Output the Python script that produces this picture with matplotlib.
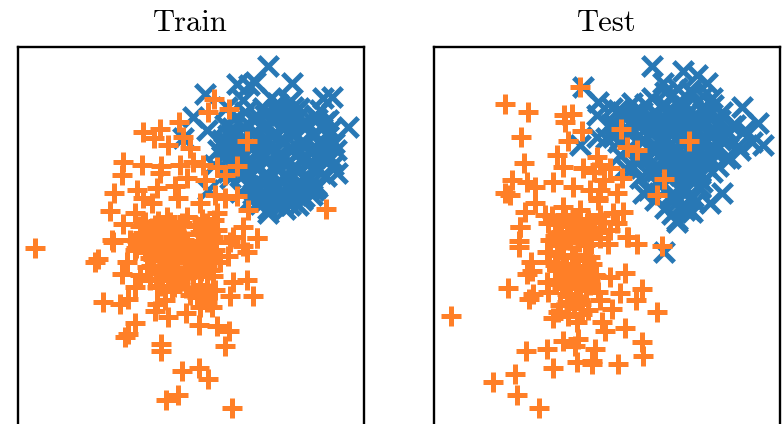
import matplotlib
matplotlib.use('Agg')
import matplotlib.pyplot as plt

train_blue_x = [268,237,249,255,292,205,332,323,320,348,328,193,207,183,333,337,317,298,268,257,208,277,293,243,227,
                225,235,245,255,265,275,285,295,305,315,325,222,232,243,252,262,272,283,293,303,313,330,
                218,228,238,250,260,270,280,290,300,310,322,336,214,226,240,248,258,268,278,288,298,308,318,
                230,242,254,264,276,286,296,306,316,326,240,252,262,274,284,294,304,314,250,260,272,282,292,
                302,312,258,268,280,290,300,272,284,296,
                # solid core of the cloud
                247,257,267,277,287,297,307,317,244,254,264,274,284,294,304,314,241,251,261,271,281,291,301,311,321,
                246,256,266,276,286,296,306,316,249,259,269,279,289,299,309,253,263,273,283,293,303,
                236,239,233,228,320,326,331,224,334,263,281,299,271,289,279,285,268,275,290,262,
                232,238,226,234,222,230,238,228,322,328,316,310,304,318,312,326]
train_blue_y = [66,84,85,82,83,94,97,98,110,127,120,117,130,138,165,173,187,205,213,203,190,103,107,100,107,
                125,118,112,120,115,110,118,112,121,115,122,140,135,128,134,128,136,129,133,127,135,130,
                150,147,155,146,152,145,153,148,143,152,146,150,165,160,170,162,168,160,170,163,171,164,168,
                178,175,183,176,184,178,186,180,185,176,192,188,195,190,198,192,197,190,200,204,198,205,196,
                200,195,150,140,160,130,150,120,142,155,
                123,116,124,117,125,118,126,119,139,132,140,133,141,134,142,135,156,149,157,150,158,151,159,152,157,
                172,165,173,166,174,167,175,168,186,181,187,180,188,181,189,194,193,200,194,201,186,
                150,160,142,135,140,145,158,148,143,108,112,108,98,102,105,209,209,205,205,199,
                128,142,140,150,156,163,168,172,128,136,148,162,178,170,182,160]
train_orange_x = [214,208,229,179,143,160,154,168,183,190,247,123,142,161,122,160,180,193,203,217,237,225,205,187,114,
                  137,157,175,215,237,225,143,110,152,178,135,200,248,326,123,143,167,187,217,207,243,257,233,143,160,
                  217,200,173,112,35,113,98,95,137,127,122,147,163,167,173,157,187,207,213,230,243,257,247,228,213,187,
                  157,135,172,193,233,247,207,230,253,207,197,103,120,128,157,155,168,186,200,212,135,199,217,229,128,
                  125,161,161,225,182,199,208,178,166,232,150,155,165,175,180,170,185,195,205,150,160,175,190,200,140,
                  145,210,215,165,155,195,205,180,135,130,140,150,170,210,220,215,165,190,205,200,
                  # solid core of the cloud
                  145,152,158,164,170,176,182,143,149,155,161,167,173,179,185,147,153,159,165,171,177,183,189,151,157,
                  163,169,175,181,187,193,156,162,168,174,180,186,196,202,208,214,198,204,210,216,200,206,212,195,201,
                  207,160,166,172,178,184,140,146,136]
train_orange_y = [99,112,109,122,132,129,138,145,137,148,141,162,165,166,175,173,165,162,165,167,166,175,180,178,193,
                  190,188,186,195,196,198,198,211,203,198,213,203,210,209,224,222,217,217,213,223,227,238,237,233,232,
                  230,232,230,240,248,242,259,262,241,262,274,267,251,261,244,241,241,244,237,242,246,238,252,256,276,277,
                  287,287,291,289,282,280,286,296,296,302,297,302,304,299,304,311,317,313,307,307,323,325,326,331,334,
                  337,344,351,346,371,368,379,395,400,408,232,245,240,255,240,265,260,250,255,258,270,275,270,265,235,
                  250,235,250,225,225,225,235,225,250,240,275,280,280,270,262,290,300,295,295,285,
                  222,228,221,229,222,230,223,236,243,237,244,238,245,239,246,252,259,253,260,254,261,255,262,266,273,
                  267,274,268,275,269,276,279,286,280,287,281,288,226,219,227,220,234,241,235,242,250,257,251,264,271,
                  265,232,239,233,246,240,226,234,248]

test_blue_x = [652,683,697,583,598,742,758,763,713,722,710,677,690,643,633,580,597,597,707,663,664,677,
               612,622,632,642,652,662,672,682,692,702,712,722,615,628,640,650,660,670,680,690,700,710,720,732,
               618,630,644,654,664,674,684,694,704,714,724,738,636,648,658,668,678,688,698,708,718,640,652,662,
               672,682,692,702,712,648,660,670,680,690,700,655,665,675,685,695,672,682,692,650,668,686,704,
               630,646,664,680,698,
               # solid core of the cloud
               635,645,655,665,675,685,695,705,638,647,657,667,677,687,697,707,641,651,661,671,681,691,701,711,721,
               644,654,664,674,684,694,704,714,656,666,676,686,696,706,660,670,680,690,700,673,683,693,
               625,618,610,606,728,735,745,752,740,730,620,628,615,625,665,677,690,703,685,
               650,658,668,678,688,698,708,716,654,662,672,682,692,702,712,722,658,668,678,688,698,708,664,674,684,
               694,704,670,680,690,700,622,634,716,726]
test_blue_y = [66,71,75,87,102,107,123,145,105,193,203,220,210,193,167,145,137,115,83,83,252,222,
               108,116,103,112,98,106,95,104,93,108,98,112,125,130,122,132,120,128,118,130,122,132,120,126,
               142,148,140,150,142,152,144,150,140,148,138,146,162,158,166,158,168,160,170,158,166,178,172,182,
               174,184,176,182,172,190,186,196,190,198,188,200,208,204,210,202,214,206,212,118,110,115,112,
               135,128,150,165,178,
               111,104,112,105,113,106,114,107,126,119,127,120,128,121,129,122,141,134,142,135,143,136,144,137,140,
               156,149,157,150,158,151,159,152,171,164,172,165,173,166,185,178,186,179,187,196,191,197,
               118,110,125,138,132,125,130,142,150,158,155,148,135,168,92,88,90,96,205,
               116,124,114,122,112,120,116,124,130,137,133,139,131,138,132,136,148,146,150,147,152,149,162,160,161,
               163,160,176,175,178,174,112,118,150,158]
test_orange_x = [580,505,528,564,572,565,582,568,521,621,627,637,689,557,524,563,597,600,583,622,664,657,512,505,510,
                 527,535,553,573,600,598,617,535,525,563,623,613,580,548,520,567,587,617,627,580,557,600,520,519,519,
                 662,637,628,608,547,531,527,532,508,563,590,563,587,610,625,547,533,529,548,567,567,598,620,642,636,
                 612,657,451,553,568,582,577,602,605,625,563,578,575,595,642,643,526,547,553,577,592,592,618,515,493,
                 517,539,570,575,560,585,555,575,590,570,555,580,560,595,600,550,590,610,545,565,600,575,
                 # solid core of the cloud
                 552,558,564,570,576,582,588,594,604,555,561,567,573,579,585,591,600,549,557,565,572,578,586,559,566,
                 571,577,583,560,568,574,580,556,563,570,558,565,572,579,586,562,570,576,590,596,584,592,574,581,588,
                 558,568,590,598,594,604,610]
test_orange_y = [87,104,112,115,114,122,131,141,137,129,147,150,141,155,163,167,157,165,168,178,179,195,180,193,195,
                 182,187,182,187,190,200,193,203,212,207,212,213,210,223,227,223,223,223,237,233,233,232,227,241,247,
                 246,244,237,244,252,262,274,271,288,257,257,274,271,277,273,282,294,299,292,294,302,292,293,289,300,
                 309,312,316,318,316,314,322,322,331,328,341,339,346,349,342,356,351,349,368,362,361,364,364,374,382,
                 395,408,240,255,245,245,265,275,285,285,280,300,305,275,300,240,235,230,215,215,215,222,
                 216,224,218,226,219,227,220,228,222,236,232,240,234,242,236,244,238,262,255,264,257,268,260,270,266,
                 276,272,278,280,282,274,286,284,268,276,270,278,272,280,290,288,296,288,281,276,266,264,308,304,310,
                 312,314,190,198,172,180,168]

TITLES = ['Train', 'Test']
BLUE = '#2878b5'
ORANGE = '#ff7f27'

fig = plt.figure(figsize=(7.83, 4.24), dpi=100)
W, H = 783, 424
panels = [(17.5, train_blue_x, train_blue_y, train_orange_x, train_orange_y),
          (433.5, test_blue_x, test_blue_y, test_orange_x, test_orange_y)]

for title, (left, bx, by, ox, oy) in zip(TITLES, panels):
    # axes run past the bottom of the picture, the source is cropped there
    ax = fig.add_axes([left / W, (H - 484) / H, 346.5 / W, 436.5 / H])
    ax.scatter(bx, by, marker='x', s=195, linewidths=3.6, color=BLUE)
    ax.scatter(ox, oy, marker='+', s=195, linewidths=3.6, color=ORANGE)
    ax.set_xlim(left, left + 346.5)
    ax.set_ylim(484, 47.5)
    ax.set_xticks([])
    ax.set_yticks([])
    for sp in ax.spines.values():
        sp.set_linewidth(1.7)
    ax.text(0.5, (484 - 31) / 436.5, title, transform=ax.transAxes, ha='center', va='baseline',
            fontsize=22, family='cmr10', clip_on=False)

fig.savefig('out.png', dpi=100)
